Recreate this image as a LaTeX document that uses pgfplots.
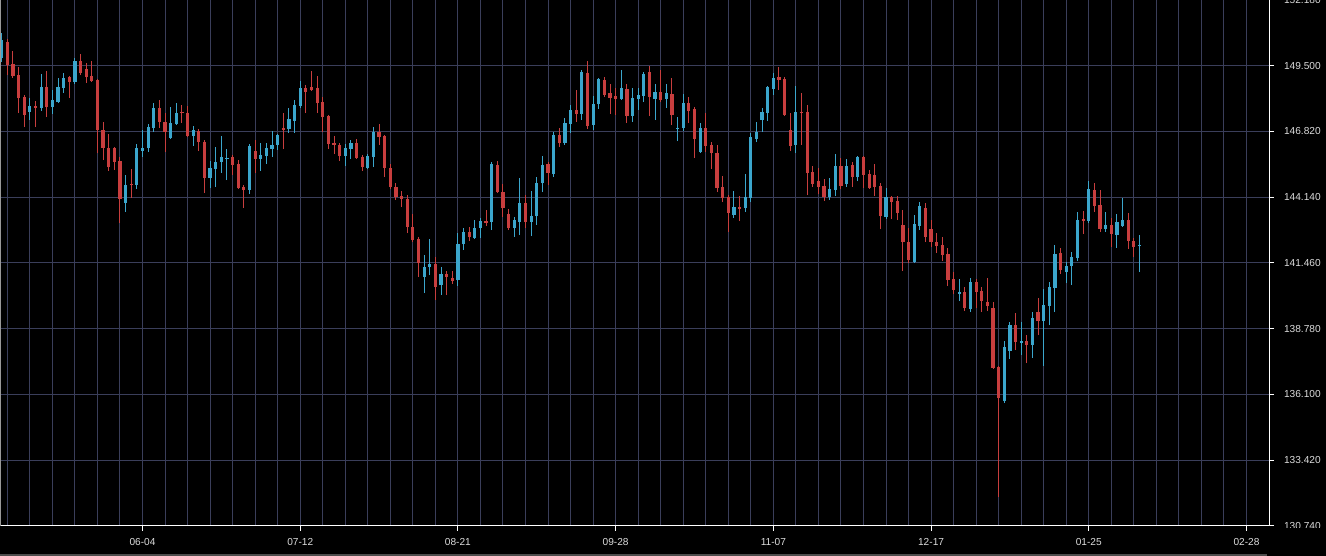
\documentclass[border=0pt]{standalone}
\usepackage{fontspec}
\setmainfont{Liberation Sans}
\usepackage{pgfplots}
\usepackage{pgfplotstable}
\pgfplotsset{compat=1.18}
\definecolor{upcol}{RGB}{59,166,204}
\definecolor{dncol}{RGB}{200,62,62}
\definecolor{gridcol}{RGB}{58,62,90}
\definecolor{lblcol}{RGB}{220,220,220}
\pgfplotstableread{
i o h l c
0 149.82 150.83 149.65 150.55
1 150.47 150.59 149.12 149.53
2 149.57 150.10 149.00 149.08
3 149.12 149.45 147.57 148.18
4 148.23 148.31 147.00 147.49
5 147.61 148.18 147.29 147.86
6 147.86 148.06 147.00 147.78
7 147.78 149.16 147.65 148.63
8 148.63 149.29 147.41 147.82
9 147.82 148.51 147.53 148.10
10 148.02 149.00 147.98 148.63
11 148.59 149.20 148.39 149.00
12 149.04 149.08 148.18 148.84
13 148.84 149.82 148.76 149.69
14 149.69 149.98 149.12 149.20
15 149.37 149.61 148.80 149.04
16 149.08 149.69 148.84 148.88
17 148.92 148.96 145.94 146.88
18 146.88 147.21 145.66 146.15
19 146.15 146.72 145.21 145.37
20 146.15 146.19 145.25 145.58
21 145.62 145.78 143.09 144.07
22 143.90 145.05 143.54 144.64
23 144.68 145.29 144.11 144.64
24 144.64 146.31 144.47 146.15
25 146.02 146.88 145.78 146.15
26 146.15 147.12 145.98 147.00
27 146.96 147.98 146.80 147.78
28 147.78 148.10 146.96 147.21
29 147.21 147.57 145.98 146.80
30 146.55 147.82 146.51 147.17
31 147.12 147.98 147.08 147.57
32 147.61 147.90 147.17 147.57
33 147.57 147.86 146.59 146.63
34 146.63 147.04 146.23 146.88
35 146.84 146.92 146.02 146.39
36 146.39 146.47 144.31 144.92
37 144.92 145.62 144.51 145.33
38 145.29 146.19 144.56 145.58
39 145.58 146.63 145.13 145.78
40 145.72 146.10 144.84 145.76
41 145.78 145.86 145.05 145.45
42 145.49 145.66 144.47 144.51
43 144.56 144.64 143.70 144.43
44 144.43 146.31 144.27 146.23
45 146.02 146.47 145.13 145.70
46 145.70 146.35 145.21 145.86
47 145.82 146.35 145.49 146.15
48 146.10 146.84 145.78 146.27
49 146.27 146.72 146.06 146.68
50 146.96 147.57 146.10 146.88
51 146.92 147.78 146.76 147.33
52 147.25 148.10 146.76 147.90
53 147.86 148.88 147.78 148.59
54 148.59 148.71 147.57 148.43
55 148.63 149.29 148.47 148.51
56 148.59 149.08 147.57 147.98
57 148.02 148.23 146.80 147.41
58 147.45 147.49 146.10 146.31
59 146.35 146.63 145.90 146.27
60 146.27 146.35 145.62 145.82
61 145.82 146.31 145.41 146.15
62 146.10 146.47 145.70 146.35
63 146.35 146.51 145.70 145.74
64 145.78 145.86 145.21 145.37
65 145.33 145.90 145.30 145.82
66 145.78 147.00 145.37 146.80
67 146.80 147.12 146.27 146.59
68 146.63 146.68 144.96 145.33
69 145.33 145.49 144.47 144.56
70 144.56 144.72 144.03 144.15
71 144.19 144.39 143.74 144.07
72 144.07 144.23 142.68 142.93
73 142.93 143.46 142.31 142.40
74 142.44 142.52 140.89 141.46
75 140.89 141.78 140.23 141.29
76 141.29 142.44 140.97 141.42
77 141.42 141.70 139.95 140.48
78 140.56 141.29 140.15 141.01
79 141.01 141.13 140.15 140.89
80 140.85 141.13 140.60 140.72
81 140.76 142.68 140.52 142.23
82 142.23 142.88 141.99 142.72
83 142.72 142.93 142.35 142.52
84 142.48 143.21 142.44 142.88
85 142.88 143.29 142.48 143.17
86 143.17 143.62 142.97 143.09
87 143.13 145.58 142.80 145.49
88 145.45 145.62 144.31 144.35
89 144.35 144.68 143.33 143.70
90 143.46 143.66 142.80 142.88
91 142.88 143.33 142.52 143.21
92 143.13 144.92 142.60 143.90
93 143.90 144.23 142.88 143.13
94 143.13 144.39 142.56 143.37
95 143.37 144.96 143.01 144.72
96 144.72 145.82 144.35 145.45
97 145.49 145.58 144.64 145.13
98 145.09 146.80 144.96 146.68
99 146.68 146.96 146.19 146.35
100 146.35 147.37 146.27 147.17
101 147.12 147.90 146.76 147.70
102 147.70 148.51 147.21 147.53
103 147.53 149.33 147.29 149.24
104 149.20 149.69 146.92 147.04
105 147.08 148.27 146.88 147.94
106 147.94 149.00 147.74 148.96
107 148.92 149.04 148.23 148.31
108 148.39 148.76 147.53 148.18
109 148.27 148.59 147.49 148.14
110 148.14 149.33 148.10 148.59
111 148.55 148.76 147.17 147.45
112 147.45 148.59 147.21 148.18
113 148.14 148.59 147.70 148.31
114 148.27 149.24 148.02 149.16
115 149.24 149.49 147.45 148.23
116 148.14 148.76 147.29 148.43
117 148.43 149.33 148.02 148.10
118 148.14 148.76 147.78 148.39
119 148.35 149.00 147.08 147.49
120 146.92 147.41 146.43 146.96
121 146.96 148.35 146.84 147.98
122 147.98 148.23 147.17 147.65
123 147.74 147.82 145.74 146.51
124 145.98 147.17 145.94 146.96
125 146.96 147.57 145.98 146.23
126 146.27 146.39 145.29 145.94
127 145.94 146.27 144.35 144.51
128 144.56 145.00 143.94 144.11
129 144.15 144.23 142.72 143.50
130 143.41 144.39 143.29 143.74
131 143.74 144.19 143.17 143.66
132 143.70 145.09 143.54 144.15
133 144.11 146.76 143.94 146.59
134 146.51 147.21 146.39 146.80
135 147.29 147.78 146.80 147.61
136 147.57 148.67 147.25 148.63
137 148.55 149.20 148.31 149.00
138 149.04 149.45 148.51 148.92
139 148.96 149.04 147.45 147.49
140 146.88 147.57 146.02 146.23
141 146.27 148.67 145.94 147.61
142 147.61 148.39 146.27 147.57
143 147.61 147.90 144.23 145.13
144 145.17 145.41 144.56 144.68
145 144.80 145.33 144.27 144.56
146 144.60 144.88 143.99 144.15
147 144.15 144.92 144.03 144.47
148 144.43 145.90 144.19 145.41
149 145.41 145.74 144.47 144.60
150 144.68 145.70 144.56 145.41
151 145.45 145.58 144.56 144.96
152 144.96 145.82 144.80 145.78
153 145.78 145.82 144.51 145.05
154 145.09 145.25 144.47 144.51
155 145.05 145.49 144.19 144.56
156 144.60 144.72 142.84 143.37
157 143.33 144.51 143.25 144.15
158 144.15 144.19 143.25 143.94
159 143.99 144.19 143.21 143.50
160 143.01 143.62 141.13 142.31
161 142.31 142.88 141.46 141.58
162 141.50 143.41 141.46 143.05
163 142.97 143.94 142.80 143.78
164 143.70 143.90 142.31 142.52
165 142.84 143.21 142.11 142.31
166 142.31 142.68 141.87 142.15
167 142.19 142.52 141.54 141.78
168 141.82 142.07 140.52 140.76
169 140.81 141.09 140.19 140.36
170 140.19 140.81 139.91 140.27
171 140.27 140.48 139.50 139.62
172 139.58 140.85 139.46 140.68
173 140.68 140.81 139.62 140.27
174 140.32 140.48 139.46 139.91
175 139.87 140.85 139.50 139.70
176 139.62 139.87 137.14 137.18
177 137.22 137.26 131.92 135.95
178 135.83 138.28 135.75 138.03
179 137.87 139.05 137.54 138.93
180 138.93 139.42 137.91 138.24
181 138.20 139.05 137.71 138.28
182 138.28 138.52 137.38 138.11
183 138.11 139.46 137.58 139.22
184 139.46 140.03 138.52 139.09
185 139.09 140.40 137.26 139.75
186 139.70 140.68 138.93 140.48
187 140.44 142.19 139.46 141.82
188 141.87 142.07 141.01 141.17
189 141.09 141.50 140.64 141.34
190 141.34 141.91 140.56 141.70
191 141.66 143.54 141.54 143.21
192 143.25 143.58 142.64 143.17
193 143.17 144.80 143.09 144.47
194 144.43 144.72 143.54 143.78
195 143.82 144.43 142.72 142.84
196 142.84 143.54 142.72 143.01
197 143.01 143.29 142.11 142.64
198 142.60 143.46 142.07 143.13
199 142.97 144.11 142.93 143.21
200 143.21 143.50 142.03 142.35
201 142.35 142.48 141.70 142.11
202 142.15 142.60 141.09 142.19
}\data
\begin{document}
\begin{tikzpicture}[x=1pt,y=1pt]
\useasboundingbox (0,-22.5) rectangle (994.5,394.5);
\fill[black] (0,-22.5) rectangle (994.5,394.5);
\begin{axis}[
  at={(0,0)}, anchor=south west, scale only axis,
  width=951.75pt, height=394.5pt,
  xmin=-0.3, xmax=225, ymin=130.74, ymax=152.18,
  axis line style={draw=none},
  tick align=outside,
  xtick pos=left, ytick pos=right,
  xticklabel pos=left, yticklabel pos=right,
  xtick={25,53,81,109,137,165,193,221},
  xticklabels={06-04,07-12,08-21,09-28,11-07,12-17,01-25,02-28},
  minor xtick={1,5,...,225},
  ytick={130.74,133.42,136.10,138.78,141.46,144.14,146.82,149.50,152.18},
  yticklabels={130.740,133.420,136.100,138.780,141.460,144.140,146.820,149.500,152.180},
  major tick length=3.75pt, minor tick length=0pt,
  every tick/.style={white, line width=0.75pt},
  xmajorgrids=true, xminorgrids=true, ymajorgrids=true,
  major grid style={gridcol, line width=0.75pt},
  minor grid style={gridcol, line width=0.75pt},
  ticklabel style={font=\fontsize{7.6}{9}\selectfont, text=lblcol},
  xticklabel shift=2pt, yticklabel shift=4pt,
  error bars/error mark=none,
]
% wicks
\addplot[forget plot, draw=none, mark=none,
  error bars/.cd, y dir=plus, y explicit,
  error bar style={draw=upcol, line width=0.75pt}]
  table[x=i, y expr={\thisrow{c}>=\thisrow{o} ? \thisrow{l} : nan},
        y error expr={\thisrow{h}-\thisrow{l}}] {\data};
\addplot[forget plot, draw=none, mark=none,
  error bars/.cd, y dir=plus, y explicit,
  error bar style={draw=dncol, line width=0.75pt}]
  table[x=i, y expr={\thisrow{c}<\thisrow{o} ? \thisrow{l} : nan},
        y error expr={\thisrow{h}-\thisrow{l}}] {\data};
% bodies
\addplot[forget plot, draw=none, mark=none,
  error bars/.cd, y dir=plus, y explicit,
  error bar style={draw=upcol, line width=2.4pt}]
  table[x=i, y expr={\thisrow{c}>=\thisrow{o} ? \thisrow{o} : nan},
        y error expr={\thisrow{c}-\thisrow{o}}] {\data};
\addplot[forget plot, draw=none, mark=none,
  error bars/.cd, y dir=plus, y explicit,
  error bar style={draw=dncol, line width=2.4pt}]
  table[x=i, y expr={\thisrow{c}<\thisrow{o} ? \thisrow{c} : nan},
        y error expr={\thisrow{o}-\thisrow{c}}] {\data};
\end{axis}
\draw[white, line width=0.75pt] (0,0) -- (951.75,0) -- (951.75,394.5);
\draw[white!60!black, line width=0.75pt] (0.375,0) -- (0.375,394.5);
\fill[black] (952.5,-22.5) rectangle (994.5,-1.2);
\draw[white!30!black, line width=1.2pt] (0,-21.9) -- (950.5,-21.9);
\end{tikzpicture}
\end{document}
